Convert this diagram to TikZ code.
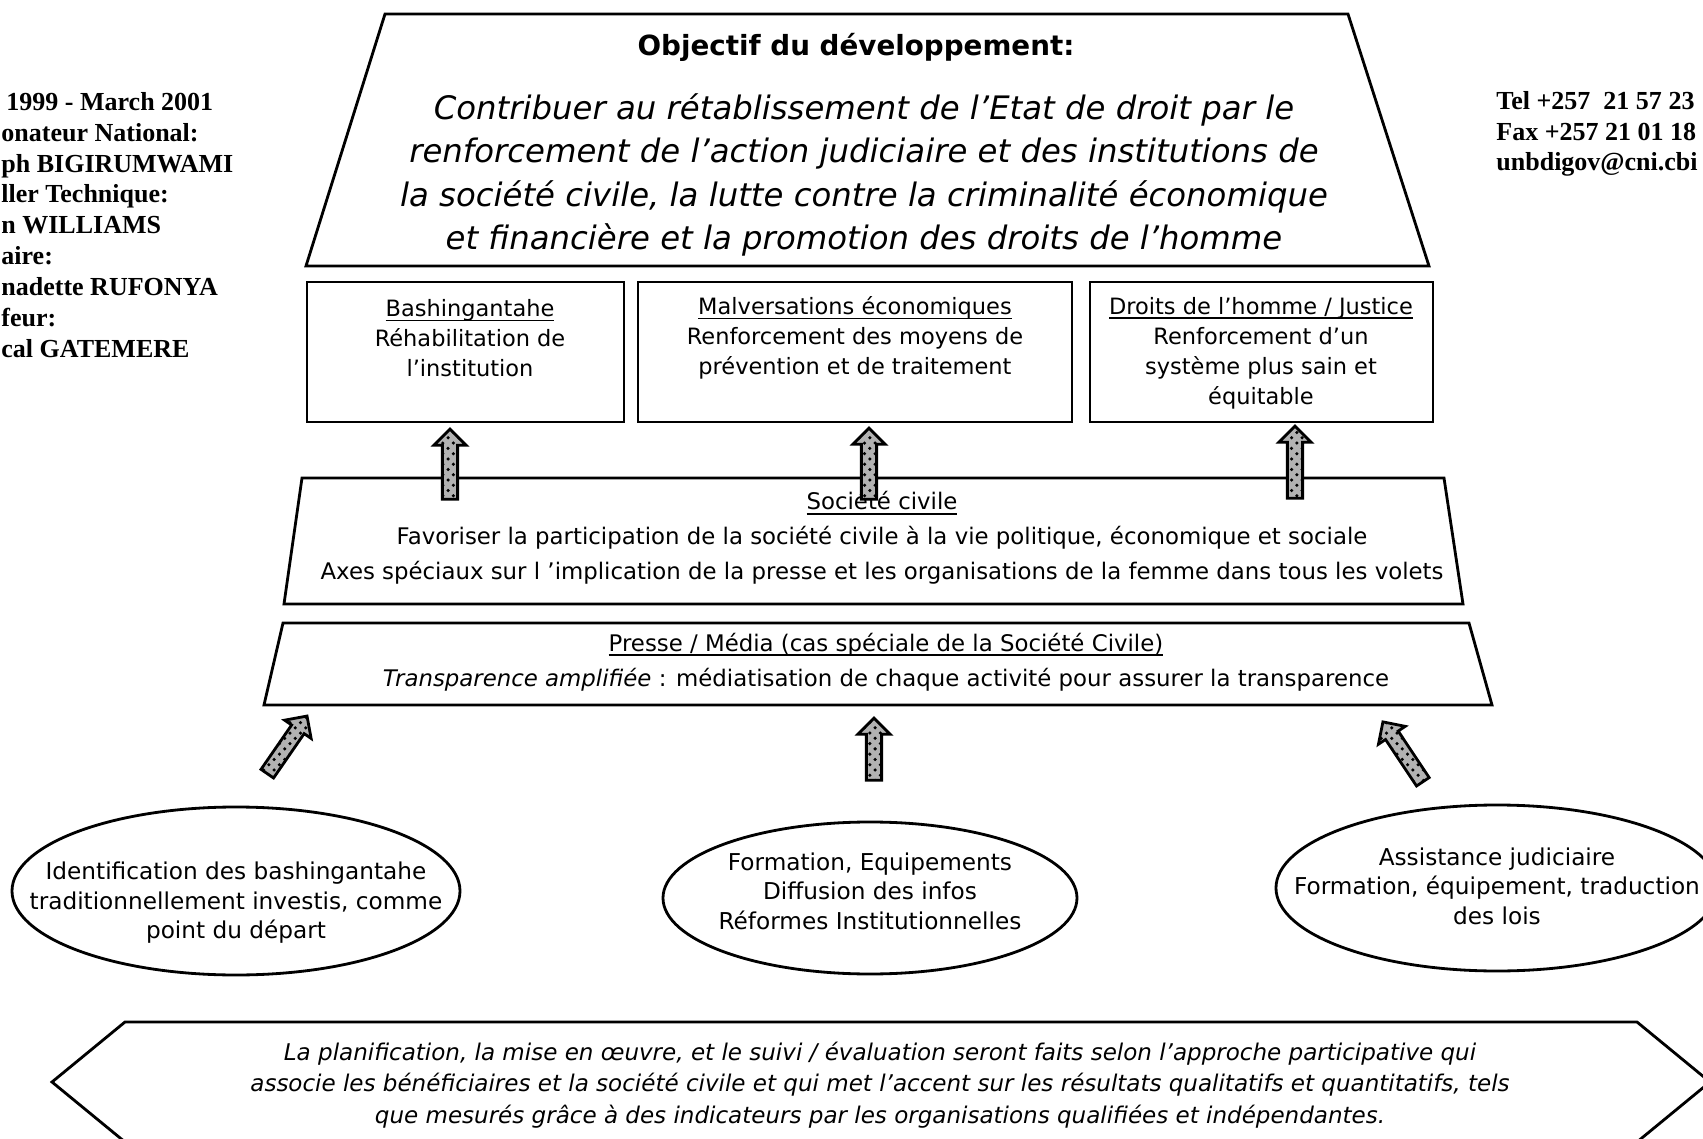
\documentclass[tikz,border=0pt]{standalone}
\usepackage{fontspec}
\setmainfont{DejaVu Sans}
\newfontfamily\oldserif{Liberation Serif}
\usepackage{tikz}
\usetikzlibrary{shapes,arrows,positioning,calc}
\usetikzlibrary{shapes.geometric}
\usetikzlibrary{patterns}
\newcommand\undl[1]{\setbox0\hbox{#1}\rlap{\rule[-1.3pt]{\wd0}{0.45pt}}\box0}

\begin{document}
\begin{tikzpicture}[x=0.1mm,y=-0.1mm,thick,
	boxtxt/.style={align=center,font=\fontsize{6.4}{8.5}\selectfont},
	civtxt/.style={align=center,font=\fontsize{6.5}{9.9}\selectfont},
	elltxt/.style={align=center,font=\fontsize{6.6}{8.4}\selectfont},
	sidetxt/.style={align=left,anchor=west,inner sep=0pt,font=\oldserif\bfseries\fontsize{7.4}{8.8}\selectfont},
	fatarrow/.style={single arrow,draw=black,thick,preaction={fill=black!30},pattern=crosshatch dots,
		minimum width=0pt,single arrow head extend=0.85mm,single arrow head indent=0pt,
		inner xsep=0pt,inner ysep=0.62mm,midway,sloped,allow upside down}]
	\useasboundingbox (0,0) rectangle (1703,1139);
	% side texts
	\node[sidetxt] (staff) at (0,225) {\hspace*{0.5mm}1999 - March 2001\\ onateur National:\\ ph BIGIRUMWAMI\\ ller Technique:\\ n WILLIAMS\\ aire:\\ nadette RUFONYA\\ feur:\\ cal GATEMERE};
	\node[sidetxt,font=\oldserif\bfseries\fontsize{7.4}{8.6}\selectfont] (contact) at (1495,134) {Tel +257\ \ 21 57 23\\ Fax +257 21 01 18\\ unbdigov@cni.cbi};
	% objectif
	\draw (385,14) -- (1348,14) -- (1429,266) -- (306,266) -- cycle;
	\node[font=\bfseries\fontsize{7.9}{9}\selectfont] (objtitle) at (856,47) {Objectif du développement:};
	\node[align=center,font=\itshape\fontsize{9.2}{12.4}\selectfont] (objtext) at (864,175) {Contribuer au rétablissement de l’Etat de droit par le\\ renforcement de l’action judiciaire et des institutions de\\ la société civile, la lutte contre la criminalité économique\\ et financière et la promotion des droits de l’homme};
	% trois volets
	\draw (307,282) rectangle (624,422);
	\draw (638,282) rectangle (1072,422);
	\draw (1090,282) rectangle (1433,422);
	\node[boxtxt] (bash) at (470,338) {\undl{Bashingantahe}\\ Réhabilitation de\\ l’institution};
	\node[boxtxt] (malv) at (855,338) {\undl{Malversations économiques}\\ Renforcement des moyens de\\ prévention et de traitement};
	\node[boxtxt] (droits) at (1261,353) {\undl{Droits de l’homme / Justice}\\ Renforcement d’un\\ système plus sain et\\ équitable};
	% societe civile
	\draw (302,478) -- (1444,478) -- (1463,604) -- (284,604) -- cycle;
	\node[civtxt] (soc) at (882,538) {\undl{Société civile}\\ Favoriser la participation de la société civile à la vie politique, économique et sociale\\ Axes spéciaux sur l ’implication de la presse et les organisations de la femme dans tous les volets};
	% presse
	\draw (283,623) -- (1469,623) -- (1492,705) -- (264,705) -- cycle;
	\node[civtxt] (presse) at (886,662) {\undl{Presse / Média (cas spéciale de la Société Civile)}\\ \textit{Transparence amplifiée} : médiatisation de chaque activité pour assurer la transparence};
	% fleches
	\coordinate (s1) at (450,503); \coordinate (t1) at (450,433);
	\coordinate (s2) at (869,503); \coordinate (t2) at (869,432);
	\coordinate (s3) at (1295,502); \coordinate (t3) at (1295,430);
	\path (s1) -- (t1) node[fatarrow,minimum height=7mm] {};
	\path (s2) -- (t2) node[fatarrow,minimum height=7.1mm] {};
	\path (s3) -- (t3) node[fatarrow,minimum height=7.2mm] {};
	\coordinate (u1) at (265,777); \coordinate (v1) at (305,719);
	\coordinate (u2) at (874,784); \coordinate (v2) at (874,722);
	\coordinate (u3) at (1425,785); \coordinate (v3) at (1385,725);
	\path (u1) -- (v1) node[fatarrow,minimum height=7mm] {};
	\path (u2) -- (v2) node[fatarrow,minimum height=6.2mm] {};
	\path (u3) -- (v3) node[fatarrow,minimum height=7.2mm] {};
	% activites
	\node[elltxt] (ident) at (236,903) {Identification des bashingantahe\\ traditionnellement investis, comme\\ point du départ};
	\draw (236,891) ellipse [x radius=22.4mm,y radius=8.4mm];
	\node[elltxt] (form) at (870,891) {Formation, Equipements\\ Diffusion des infos\\ Réformes Institutionnelles};
	\draw (870,898) ellipse [x radius=20.7mm,y radius=7.6mm];
	\node[elltxt] (assist) at (1497,886) {Assistance judiciaire\\ Formation, équipement, traduction\\ des lois};
	\draw (1497,888) ellipse [x radius=22.1mm,y radius=8.3mm];
	% approche
	\draw (125,1022) -- (1637,1022) -- (1710,1082) -- (1637,1142) -- (125,1142) -- (52,1082) -- cycle;
	\node[align=center,font=\itshape\fontsize{6.55}{8.9}\selectfont] (plan) at (880,1085) {La planification, la mise en œuvre, et le suivi / évaluation seront faits selon l’approche participative qui\\ associe les bénéficiaires et la société civile et qui met l’accent sur les résultats qualitatifs et quantitatifs, tels\\ que mesurés grâce à des indicateurs par les organisations qualifiées et indépendantes.};
\end{tikzpicture}
\end{document}
